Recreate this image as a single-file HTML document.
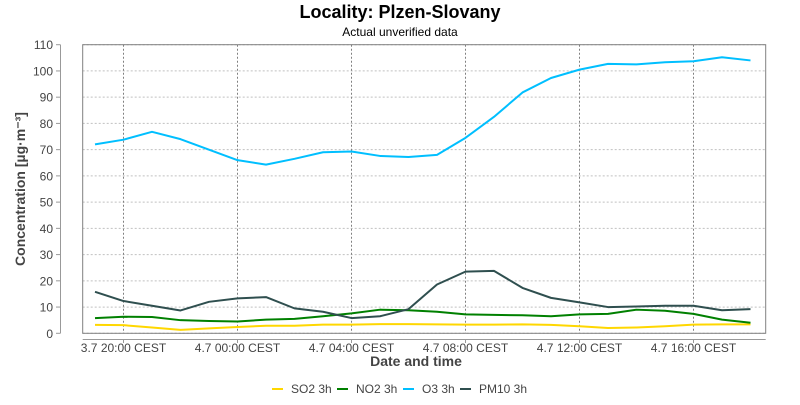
<!DOCTYPE html>
<html><head><meta charset="utf-8"><style>
body{margin:0;background:#fff;font-family:"Liberation Sans",sans-serif}
svg text{font-family:"Liberation Sans",sans-serif}
</style></head><body>
<svg id="chart" width="800" height="400" xmlns="http://www.w3.org/2000/svg">
<text x="400" y="18" text-anchor="middle" font-size="18" font-weight="bold" fill="#000">Locality: Plzen-Slovany</text>
<text x="400" y="36" text-anchor="middle" font-size="12" fill="#000">Actual unverified data</text>
<g id="grid"></g>
<rect x="82.7" y="44.7" width="683" height="288.6" fill="none" stroke="#808080"/>
<line x1="60.5" y1="44.7" x2="60.5" y2="333.3" stroke="#999"/>
<line x1="82.7" y1="339.5" x2="765.7" y2="339.5" stroke="#999"/>
<g id="yticks"></g><g id="xticks"></g><g id="series"></g>
<text transform="translate(25,189) rotate(-90)" text-anchor="middle" font-size="14" font-weight="bold" fill="#444">Concentration [µg·m⁻³]</text>
<text x="416" y="366" text-anchor="middle" font-size="14" font-weight="bold" fill="#444">Date and time</text>
<g id="legend"></g>
</svg>
<script>
const hours = ["19:00","20:00","21:00","22:00","23:00","00:00","01:00","02:00","03:00","04:00","05:00","06:00","07:00","08:00","09:00","10:00","11:00","12:00","13:00","14:00","15:00","16:00","17:00","18:00"];
const so2 = [3.2,3.1,2.2,1.3,1.9,2.4,2.9,2.9,3.3,3.3,3.5,3.5,3.4,3.3,3.3,3.4,3.2,2.7,2.0,2.2,2.7,3.3,3.4,3.4];
const no2 = [5.8,6.3,6.2,5.0,4.7,4.5,5.2,5.5,6.5,7.6,9.0,8.8,8.2,7.2,7.0,6.9,6.5,7.2,7.4,9.0,8.6,7.4,5.2,4.0];
const o3 = [72,73.8,76.8,74,70,66,64.3,66.5,69,69.3,67.6,67.2,68,74.5,82.5,91.8,97.3,100.5,102.7,102.5,103.3,103.7,105.2,104];
const pm10 = [15.8,12.3,10.5,8.7,12,13.3,13.8,9.5,8.2,5.8,6.5,9.2,18.6,23.5,23.8,17.3,13.5,11.8,10,10.2,10.5,10.5,8.8,9.2];
const yTicks = [0,10,20,30,40,50,60,70,80,90,100,110];
const xTickLabels = ["3.7 20:00 CEST","4.7 00:00 CEST","4.7 04:00 CEST","4.7 08:00 CEST","4.7 12:00 CEST","4.7 16:00 CEST"];
const xTickIdx = [1,5,9,13,17,21];
const seriesNames = ["SO2 3h","NO2 3h","O3 3h","PM10 3h"];
const NS="http://www.w3.org/2000/svg";
const L=82.7,R=765.7,T=44.7,B=333.3;
const x = i => 95 + i*28.5;
const y = v => B - v*(B-T)/110;
function mk(tag,attrs,parent){const e=document.createElementNS(NS,tag);for(const k in attrs)e.setAttribute(k,attrs[k]);parent.appendChild(e);return e;}
const grid=document.getElementById('grid'),yt=document.getElementById('yticks'),xt=document.getElementById('xticks');
yTicks.forEach(v=>{
  const g=mk('line',{x1:L,x2:R,y1:y(v),y2:y(v),stroke:'#c0c0c0','stroke-dasharray':'2,2'},grid);
  
  
  const t=mk('line',{x1:56,x2:60.5,y1:y(v),y2:y(v),stroke:'#999'},yt);
  
  
  const tx=mk('text',{x:53,y:y(v)+4.5,'text-anchor':'end','font-size':12,fill:'#444'},yt);
  tx.textContent=v;
  
  
});
xTickIdx.forEach((i,k)=>{
  const g=mk('line',{x1:x(i),x2:x(i),y1:T,y2:B,stroke:'#808080','stroke-dasharray':'2,2'},grid);
  
  
  const t=mk('line',{x1:x(i),x2:x(i),y1:339.5,y2:343,stroke:'#999'},xt);
  
  
  const tx=mk('text',{x:x(i),y:352,'text-anchor':'middle','font-size':12,fill:'#444'},xt);
  tx.textContent=xTickLabels[k];
  
  
});
const data=[so2,no2,o3,pm10];
const colors=['#ffd700','#008000','#00bfff','#2f4f4f'];
const sg=document.getElementById('series');
data.forEach((d,s)=>{
  const p=mk('polyline',{points:d.map((v,i)=>x(i)+','+y(v)).join(' '),fill:'none',stroke:colors[s],'stroke-width':2,'stroke-linejoin':'round'},sg);
  
  
});
const lg=document.getElementById('legend');
const lx=[272,337,403,460];
seriesNames.forEach((n,s)=>{
  const g=mk('g',{},lg);
  
  
  mk('line',{x1:lx[s],x2:lx[s]+11,y1:389,y2:389,stroke:colors[s],'stroke-width':2},g);
  const t=mk('text',{x:lx[s]+19,y:393,'font-size':12,fill:'#444'},g);
  t.textContent=n;
});
</script>
</body></html>
